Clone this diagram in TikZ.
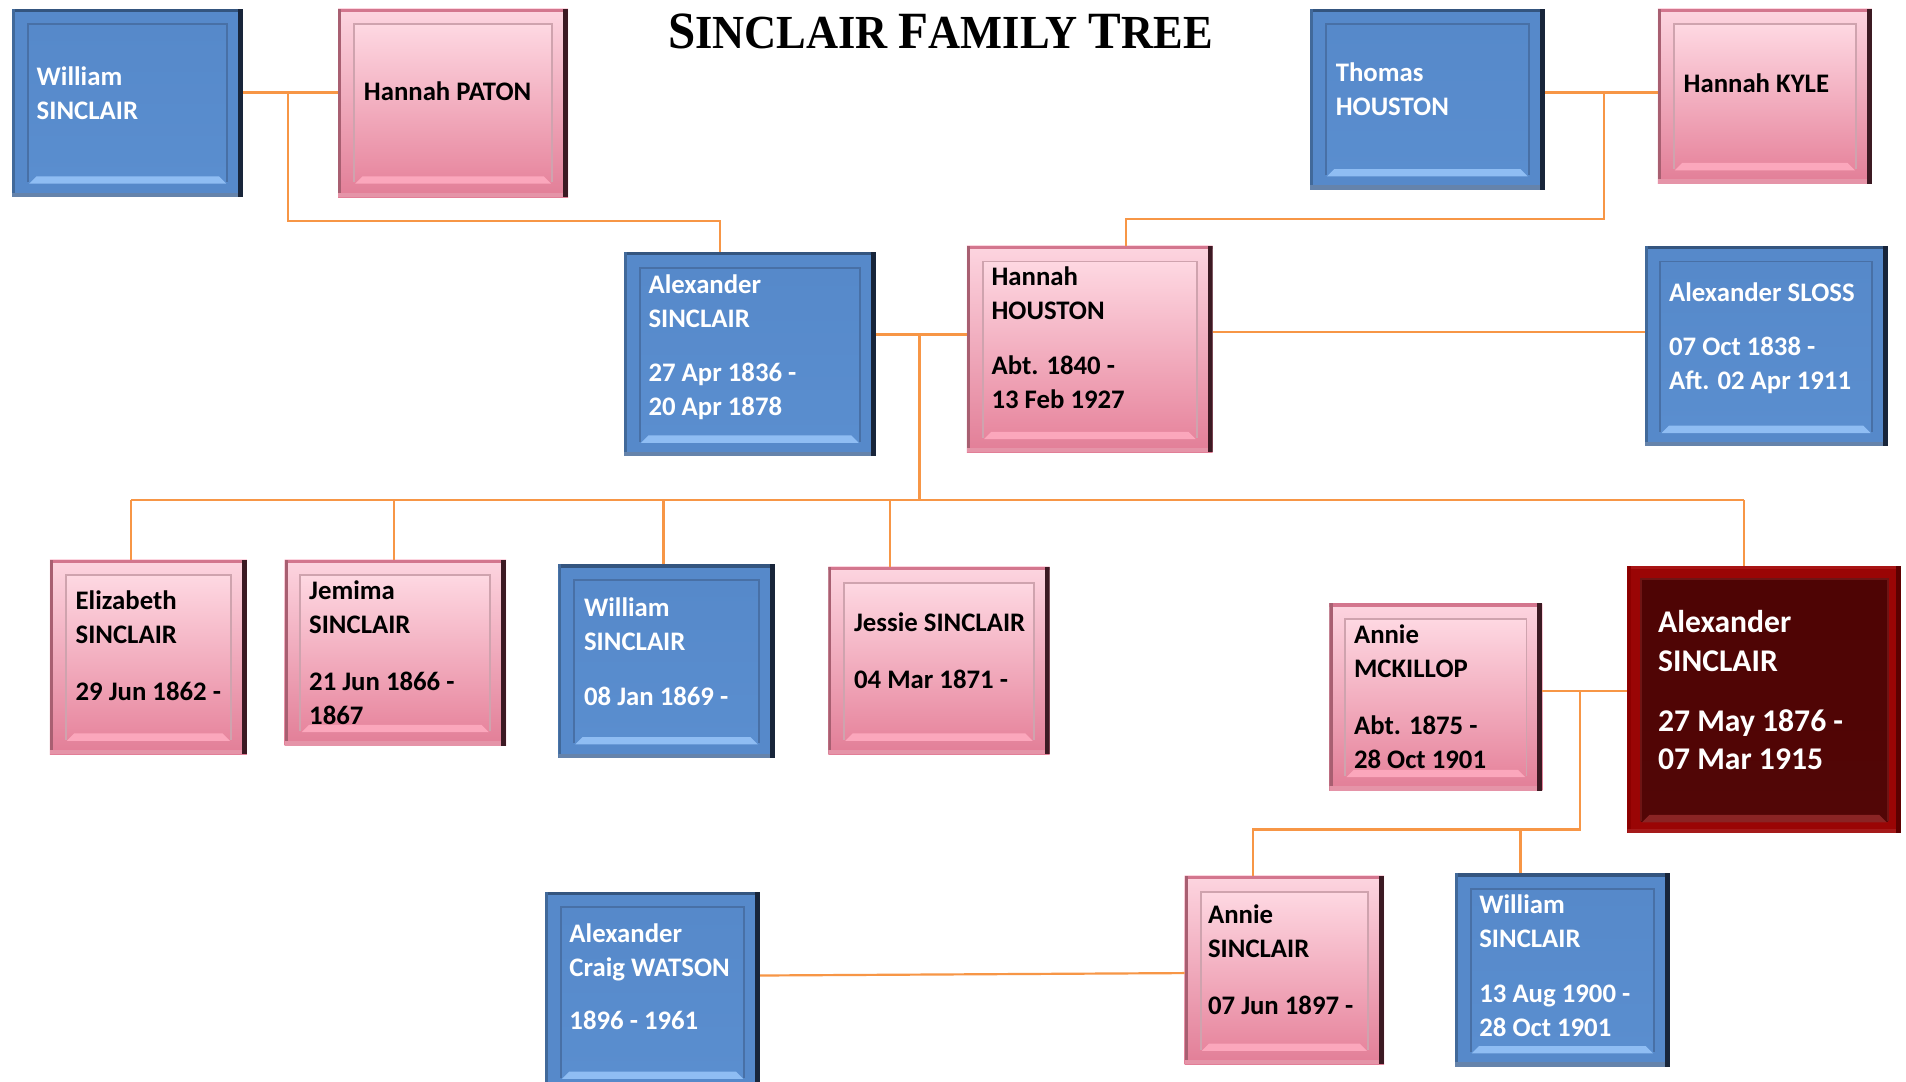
\documentclass[tikz,border=0pt]{standalone}
\usepackage{fontspec}
\usepackage{graphicx}
\usetikzlibrary{calc}
\newfontfamily\cfont{Carlito}
\newfontfamily\titlefont{Liberation Serif}
\definecolor{conncol}{HTML}{F79646}
% blue
\definecolor{bFill}{HTML}{5689CA}
\definecolor{bTop}{HTML}{34557F}
\definecolor{bLeft}{HTML}{41699A}
\definecolor{bRight}{HTML}{18253A}
\definecolor{bBot}{HTML}{6583AB}
\definecolor{bInTop}{HTML}{5689CA}
\definecolor{bInMid}{HTML}{5689CA}
\definecolor{bInBot}{HTML}{5A8ECF}
\definecolor{bInLine}{HTML}{4870A6}
\definecolor{bHi}{HTML}{8FBDF3}
% pink
\definecolor{pOutTop}{HTML}{FDD5E0}
\definecolor{pOutMid}{HTML}{F3B2C3}
\definecolor{pOutBot}{HTML}{E27E97}
\definecolor{pTop}{HTML}{D3768E}
\definecolor{pLeft}{HTML}{A85F71}
\definecolor{pRight}{HTML}{3C1A23}
\definecolor{pBot}{HTML}{E594A8}
\definecolor{pInTop}{HTML}{FED8E2}
\definecolor{pInMid}{HTML}{F7C3D0}
\definecolor{pInBot}{HTML}{E7869E}
\definecolor{pInLine}{HTML}{CFA3AE}
\definecolor{pHi}{HTML}{FBA7BC}
% red
\definecolor{rFill}{HTML}{9A0505}
\definecolor{rTop}{HTML}{A81414}
\definecolor{rLeft}{HTML}{8C0000}
\definecolor{rRight}{HTML}{5C0000}
\definecolor{rBot}{HTML}{A51A1A}
\definecolor{rInTop}{HTML}{4E0404}
\definecolor{rInMid}{HTML}{4E0404}
\definecolor{rInBot}{HTML}{520606}
\definecolor{rInLine}{HTML}{6E1414}
\definecolor{rHi}{HTML}{8A2424}

\newcommand\bevel[2]{%
  \path (path picture bounding box.south west) coordinate (ppsw)
        (path picture bounding box.north east) coordinate (ppne)
        (ppsw |- ppne) coordinate (ppnw)
        (ppne |- ppsw) coordinate (ppse);
  \fill[#1Top] (ppnw) rectangle ($(ppne)+(0pt,-3pt)$);
  \fill[#1Left] (ppsw) rectangle ($(ppnw)+(2.5pt,0pt)$);
  \fill[#1Bot] (ppsw) rectangle ($(ppse)+(0pt,3.5pt)$);
  \fill[#1Right] ($(ppse)+(-4pt,0pt)$) rectangle (ppne);
  \path ($(ppsw)+(#2pt,#2pt-1pt)$) coordinate (isw)
        ($(ppne)+(-#2pt,-#2pt)$) coordinate (ine)
        (isw |- ine) coordinate (inw)
        (ine |- isw) coordinate (ise);
  \shade[top color=#1InTop, middle color=#1InMid, bottom color=#1InBot] (isw) rectangle (ine);
  \draw[#1InLine, line width=1.6pt] (isw) -- (inw) -- (ine) -- (ise);
  \fill[#1Hi] ($(isw)+(1pt,-1pt)$) -- ($(ise)+(-1pt,-1pt)$) -- ($(ise)+(-7pt,5pt)$) -- ($(isw)+(7pt,5pt)$) -- cycle;
}

\tikzset{
  famnode/.style={rectangle, inner sep=0pt, outer sep=0pt, anchor=north west},
  bluebox/.style={famnode, fill=bFill, path picture={\bevel{b}{13}}},
  pinkbox/.style={famnode, top color=pOutTop, middle color=pOutMid, bottom color=pOutBot, path picture={\bevel{p}{13}}},
  redbox/.style={famnode, fill=rFill, path picture={\bevel{r}{11}}},
  boxtext/.style={anchor=base west, inner sep=0pt, font=\cfont\bfseries\fontsize{22}{28}\selectfont},
  bluetext/.style={boxtext, text=white},
  pinktext/.style={boxtext, text=black},
  redtext/.style={boxtext, text=white, font=\cfont\bfseries\fontsize{26}{32}\selectfont},
  conn/.style={draw=conncol, line width=1.8pt},
}

\newcommand\person[9]{%
  \node[#2box, minimum width=#5pt, minimum height=#6pt] (#1) at (#3,#4) {};
  \node[#2text] (#1-t) at (#7,#8) {\parbox[t]{320pt}{#9}};
}

\begin{document}
\begin{tikzpicture}[x=1pt,y=-1pt]
\useasboundingbox (0,0) rectangle (1567,889);
\clip (0,0) rectangle (1567,889);
\fill[white] (0,0) rectangle (1567,889);

\node[anchor=base west, inner sep=0pt] (title) at (549,40) {\resizebox{448pt}{\height}{\titlefont\bfseries\fontsize{39}{39}\selectfont{\fontsize{43}{43}\selectfont S}INCLAIR {\fontsize{43}{43}\selectfont F}AMILY {\fontsize{43}{43}\selectfont T}REE}};

\person{wsA}{blue}{10}{7}{190}{155}{30}{70}{William\\SINCLAIR}
\person{hp}{pink}{278}{7}{189}{155}{299}{83}{Hannah PATON}
\person{th}{blue}{1077}{7}{193}{149}{1098}{67}{Thomas\\HOUSTON}
\person{hk}{pink}{1363}{7}{176}{144}{1384}{76}{Hannah KYLE}
\person{as}{blue}{513}{207}{207}{168}{533}{241}{Alexander\\SINCLAIR\\[17pt]27 Apr 1836 -\\20 Apr 1878}
\person{hh}{pink}{795}{202}{202}{170}{815}{235}{Hannah\\HOUSTON\\[17pt]Abt. 1840 -\\13 Feb 1927}
\person{sloss}{blue}{1352}{202}{200}{165}{1372}{248}{Alexander SLOSS\\[16pt]07 Oct 1838 -\\Aft. 02 Apr 1911}
\person{eliz}{pink}{41}{460}{162}{160}{62}{501}{Elizabeth\\SINCLAIR\\[19pt]29 Jun 1862 -}
\person{jem}{pink}{234}{460}{182}{153}{254}{493}{Jemima\\SINCLAIR\\[19pt]21 Jun 1866 -\\1867}
\person{wil}{blue}{459}{464}{178}{159}{480}{507}{William\\SINCLAIR\\[17pt]08 Jan 1869 -}
\person{jes}{pink}{681}{466}{182}{154}{702}{519}{Jessie SINCLAIR\\[19pt]04 Mar 1871 -}
\person{mck}{pink}{1093}{496}{175}{154}{1113}{529}{Annie\\MCKILLOP\\[19pt]Abt. 1875 -\\28 Oct 1901}
\person{red}{red}{1338}{465}{225}{220}{1363}{520}{Alexander\\SINCLAIR\\[17pt]27 May 1876 -\\07 Mar 1915}
\person{wat}{blue}{448}{733}{177}{165}{468}{775}{Alexander\\Craig WATSON\\[15pt]1896 - 1961}
\person{anS}{pink}{974}{720}{164}{155}{993}{759}{Annie\\SINCLAIR\\[19pt]07 Jun 1897 -}
\person{wilB}{blue}{1196}{718}{177}{159}{1216}{751}{William\\SINCLAIR\\[17pt]13 Aug 1900 -\\28 Oct 1901}

% connectors
\draw[conn] ($(wsA.north east)+(0,69)$) coordinate (c1a) -- (c1a -| hp.west);
\coordinate (j1) at ($(c1a)+(37,0)$);
\coordinate (m1) at ($(as.north west)+(79,-25)$);
\draw[conn] (j1) |- (m1) -- (m1 |- as.north);

\draw[conn] ($(th.north east)+(0,69)$) coordinate (c3a) -- (c3a -| hk.west);
\coordinate (j2) at ($(c3a)+(49,0)$);
\coordinate (m2) at ($(hh.north west)+(131,-22)$);
\draw[conn] (j2) |- (m2) -- (m2 |- hh.north);

\draw[conn] ($(as.north east)+(0,68)$) coordinate (c5a) -- (c5a -| hh.west);
\coordinate (j3) at ($(c5a)+(36,0)$);
\coordinate (busL) at ($(eliz.north west)+(67,-49)$);
\coordinate (busR) at ($(red.north west)+(96,-54)$);
\draw[conn] (busL) -- (busR);
\draw[conn] (j3) -- (j3 |- busL);
\draw[conn] (busL) -- (busL |- eliz.north);
\draw[conn] ($(jem.north west)+(90,0)$) coordinate (d2) -- (d2 |- busL);
\draw[conn] ($(wil.north west)+(86.5,0)$) coordinate (d3) -- (d3 |- busL);
\draw[conn] ($(jes.north west)+(50.5,0)$) coordinate (d4) -- (d4 |- busL);
\draw[conn] (busR) -- (busR |- red.north);

\draw[conn] ($(hh.north east)+(0,71)$) coordinate (c7a) -- (c7a -| sloss.west);

\draw[conn] ($(mck.north east)+(0,72)$) coordinate (c8a) -- (c8a -| red.west);
\coordinate (j4) at ($(c8a)+(31,0)$);
\coordinate (m4) at ($(anS.north west)+(56,-38)$);
\draw[conn] (j4) |- (m4) -- (m4 |- anS.north);
\draw[conn] ($(wilB.north west)+(54,0)$) coordinate (d6) -- (d6 |- m4);

\draw[conn] ($(wat.north east)+(0,69)$) -- ($(anS.north west)+(0,80)$);
\end{tikzpicture}
\end{document}
